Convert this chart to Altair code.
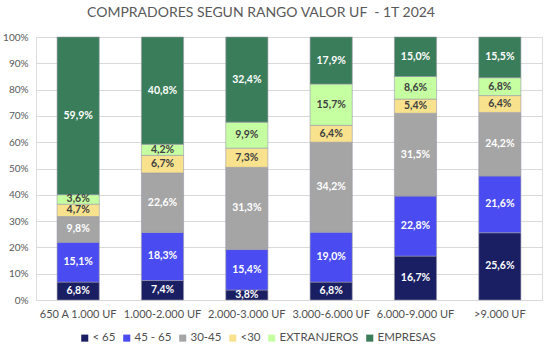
import altair as alt
import pandas as pd

categories = ["650 A 1.000 UF", "1.000-2.000 UF", "2.000-3.000 UF",
              "3.000-6.000 UF", "6.000-9.000 UF", ">9.000 UF"]
series = ["< 65", "45 - 65", "30-45", "<30", "EXTRANJEROS", "EMPRESAS"]
colors = ["#1a1f63", "#4a4bf0", "#a5a5a5", "#f9e28d", "#c6ffa2", "#3a7d5a"]
label_colors = ["#ffffff", "#ffffff", "#ffffff", "#404040", "#404040", "#ffffff"]

s_lt65 = [6.8, 7.4, 3.8, 6.8, 16.7, 25.6]
s_45_65 = [15.1, 18.3, 15.4, 19.0, 22.8, 21.6]
s_30_45 = [9.8, 22.6, 31.3, 34.2, 31.5, 24.2]
s_lt30 = [4.7, 6.7, 7.3, 6.4, 5.4, 6.4]
s_extr = [3.6, 4.2, 9.9, 15.7, 8.6, 6.8]
s_emp = [59.9, 40.8, 32.4, 17.9, 15.0, 15.5]

all_series = [s_lt65, s_45_65, s_30_45, s_lt30, s_extr, s_emp]
rows = []
for si, (name, vals) in enumerate(zip(series, all_series)):
    for ci, cat in enumerate(categories):
        rows.append({"cat": cat, "serie": name, "val": vals[ci], "ord": si,
                     "lbl": f"{vals[ci]:.1f}%".replace(".", ","),
                     "tc": label_colors[si]})
df = pd.DataFrame(rows)

FONT = "Lato"

base = alt.Chart(df).transform_stack(
    stack="val", groupby=["cat"], as_=["y0", "y1"],
    sort=[alt.SortField("ord", order="ascending")], offset="normalize"
).transform_calculate(mid="(datum.y0 + datum.y1) / 2")

x_axis = alt.Axis(labelAngle=0, labelFontSize=11, labelColor="#505050",
                  labelFont=FONT, ticks=False, domain=True,
                  domainColor="#d9d9d9", labelPadding=8)
y_axis = alt.Axis(format=".0%", tickCount=10,
                  labelFontSize=10, labelColor="#595959", labelFont=FONT,
                  ticks=False, domain=False, gridColor="#d9d9d9",
                  labelOverlap=False, labelPadding=8)
x_scale = alt.Scale(paddingInner=0.5, paddingOuter=0.25)
y_scale = alt.Scale(domain=[0, 1], nice=False)

bars = base.mark_bar(stroke="#9a9aaa", strokeWidth=0.6).encode(
    x=alt.X("cat:N", sort=categories, title=None, scale=x_scale, axis=x_axis),
    y=alt.Y("y0:Q", title=None, scale=y_scale, axis=y_axis),
    y2="y1:Q",
    color=alt.Color("serie:N", scale=alt.Scale(domain=series, range=colors),
                    legend=alt.Legend(title=None, orient="none", direction="horizontal",
                                      legendX=43, legendY=295, symbolType="square",
                                      symbolSize=50, labelFontSize=11.5,
                                      labelColor="#505050", labelFont=FONT,
                                      columnPadding=5, labelOffset=2,
                                      symbolStrokeWidth=0)),
)

labels = base.mark_text(fontSize=10.5, fontWeight="bold", font=FONT).encode(
    x=alt.X("cat:N", sort=categories, title=None, scale=x_scale, axis=x_axis),
    y=alt.Y("mid:Q", title=None, scale=y_scale, axis=y_axis),
    text="lbl:N",
    color=alt.Color("tc:N", scale=None),
)

chart = alt.layer(bars, labels).properties(
    width=506, height=263,
    title=alt.TitleParams("COMPRADORES SEGUN RANGO VALOR UF\u00a0 - 1T 2024",
                          fontSize=14, font=FONT, fontWeight="normal",
                          color="#595959", offset=12, dx=-28),
    autosize=alt.AutoSizeParams(type="none"),
    padding={"left": 36, "top": 37, "right": 12, "bottom": 54},
).configure_view(stroke=None).configure(background="white")

chart.save("out.html", embed_options={"renderer": "svg", "actions": False})
